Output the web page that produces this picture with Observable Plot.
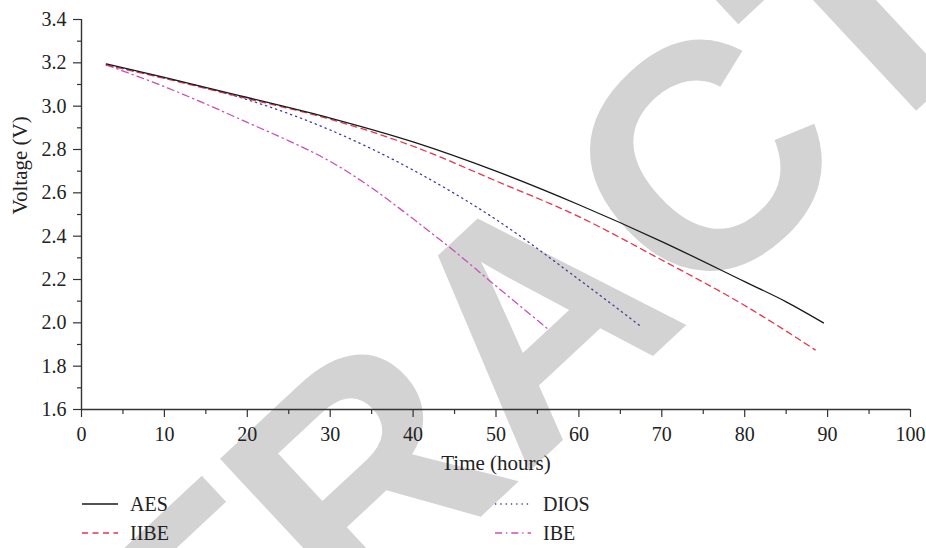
<!DOCTYPE html>
<html>
<head>
<meta charset="utf-8">
<script src="https://cdn.jsdelivr.net/npm/d3@7"></script>
<script src="https://cdn.jsdelivr.net/npm/@observablehq/plot@0.6"></script>
<style>
  html, body { margin: 0; padding: 0; background: #fff; }
  #wrap { position: relative; width: 926px; height: 548px; overflow: hidden; background: #fff; }
  #wm { position: absolute; left: 0; top: 0; z-index: 0; }
  #chart { position: absolute; left: 0; top: 0; z-index: 1; }
  .leg { position: absolute; z-index: 1; font-family: 'Liberation Serif', 'Times New Roman', serif; font-size: 20px; line-height: 24px; color: #222; display: flex; align-items: center; }
  .leg svg { display: block; }
</style>
</head>
<body>
<div id="wrap">
  <svg id="wm" width="926" height="548"></svg>
  <div id="chart"></div>
  <div id="legend"></div>
</div>
<script>
// ---- data ----
const seriesNames = ["AES", "IIBE", "DIOS", "IBE"];

const aesHours  = [3, 10, 20, 30, 40, 50, 60, 70, 80, 85, 89.5];
const aesVolts  = [3.195, 3.133, 3.04, 2.945, 2.835, 2.70, 2.545, 2.375, 2.19, 2.097, 2.0];

const iibeHours = [3, 10, 20, 30, 40, 50, 60, 70, 80, 85, 88.5];
const iibeVolts = [3.19, 3.128, 3.035, 2.94, 2.815, 2.655, 2.49, 2.29, 2.08, 1.962, 1.875];

const diosHours = [3, 10, 20, 30, 40, 50, 60, 67.4];
const diosVolts = [3.19, 3.13, 3.03, 2.89, 2.705, 2.477, 2.20, 1.986];

const ibeHours  = [3, 10, 15, 20, 25, 30, 35, 40, 45, 50, 56.4];
const ibeVolts  = [3.19, 3.09, 3.01, 2.925, 2.84, 2.745, 2.623, 2.48, 2.33, 2.17, 1.967];

const xTickValues = [0, 10, 20, 30, 40, 50, 60, 70, 80, 90, 100];
const xMinorTicks = [5, 15, 25, 35, 45, 55, 65, 75, 85, 95];
const yTickValues = [1.6, 1.8, 2.0, 2.2, 2.4, 2.6, 2.8, 3.0, 3.2, 3.4];
const yMinorTicks = [1.7, 1.9, 2.1, 2.3, 2.5, 2.7, 2.9, 3.1, 3.3];

const xTitle = "Time (hours)";
const yTitle = "Voltage (V)";
const watermark = "RETRACTED";

// ---- styles ----
const styles = {
  AES:  {stroke: "#1a1a1a", dash: null},
  IIBE: {stroke: "#e8334f", dash: "6,4.5"},
  DIOS: {stroke: "#3f3c9c", dash: "1.3,4"},
  IBE:  {stroke: "#c94fb8", dash: "7,4,1.3,4"}
};

const toRows = (hs, vs) => hs.map((h, i) => ({h, v: vs[i]}));
const table = {
  AES: toRows(aesHours, aesVolts),
  IIBE: toRows(iibeHours, iibeVolts),
  DIOS: toRows(diosHours, diosVolts),
  IBE: toRows(ibeHours, ibeVolts)
};

// ---- watermark (background stamp) ----
const wm = d3.select("#wm");
wm.append("text")
  .attr("x", 608).attr("y", 398)
  .attr("transform", "rotate(-43,608,398)")
  .attr("text-anchor", "middle")
  .attr("font-family", "'Liberation Sans', Arial, sans-serif")
  .attr("font-weight", "bold")
  .attr("font-size", 320)
  .attr("fill", "#d3d3d3")
  .text(watermark);

// ---- chart ----
const axisColor = "#333";
const lineMarks = ["DIOS", "IBE", "IIBE", "AES"].map(name => Plot.line(table[name], {
  x: "h", y: "v",
  stroke: styles[name].stroke,
  strokeWidth: 1.3,
  strokeDasharray: styles[name].dash,
  curve: "monotone-x"
}));

const chart = Plot.plot({
  width: 926,
  height: 480,
  marginLeft: 81,
  marginRight: 16,
  marginTop: 19,
  marginBottom: 71,
  style: {background: "transparent", fontFamily: "'Liberation Serif', 'Times New Roman', serif", fontSize: "20px", color: "#222"},
  x: {domain: [0, 100]},
  y: {domain: [1.6, 3.4]},
  marks: [
    Plot.axisX({ticks: xTickValues, tickSize: 8, tickPadding: 9, tickFormat: d => String(d), label: null, stroke: axisColor, strokeWidth: 1.2, fill: "#222"}),
    Plot.axisX({ticks: xMinorTicks, tickSize: 5, tickFormat: () => "", label: null, stroke: axisColor, strokeWidth: 1.2}),
    Plot.axisY({ticks: yTickValues, tickSize: 8, tickPadding: 7, tickFormat: d => d.toFixed(1), label: null, stroke: axisColor, strokeWidth: 1.2, fill: "#222"}),
    Plot.axisY({ticks: yMinorTicks, tickSize: 4, tickFormat: () => "", label: null, stroke: axisColor, strokeWidth: 1.2}),
    Plot.ruleY([1.6], {stroke: axisColor, strokeWidth: 1.4}),
    Plot.ruleX([0], {stroke: axisColor, strokeWidth: 1.4}),
    ...lineMarks,
    Plot.text([xTitle], {text: d => d, frameAnchor: "bottom", dy: 54, lineAnchor: "middle", fontSize: 21, fill: "#222"}),
    Plot.text([yTitle], {text: d => d, frameAnchor: "left", dx: -61, rotate: -90, lineAnchor: "middle", fontSize: 21, fill: "#222"})
  ]
});
document.getElementById("chart").appendChild(chart);

// ---- legend ----
const legendPos = {
  AES:  {left: 82,  top: 492},
  IIBE: {left: 82,  top: 521},
  DIOS: {left: 495, top: 492},
  IBE:  {left: 495, top: 521}
};
const legend = document.getElementById("legend");
for (const name of seriesNames) {
  const s = styles[name];
  const item = document.createElement("div");
  item.className = "leg";
  item.style.left = legendPos[name].left + "px";
  item.style.top = legendPos[name].top + "px";
  item.innerHTML = `<svg width="36" height="24"><line x1="0" x2="36" y1="12" y2="12" stroke="${s.stroke}" stroke-width="1.3" ${s.dash ? `stroke-dasharray="${s.dash}"` : ""}/></svg><span style="margin-left:12px">${name}</span>`;
  legend.appendChild(item);
}
</script>
</body>
</html>
